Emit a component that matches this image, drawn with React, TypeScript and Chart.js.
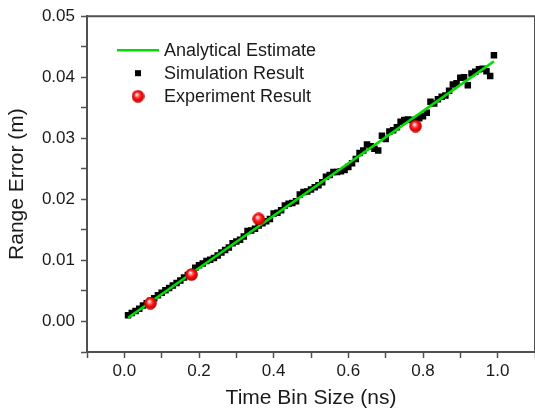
import React, { useEffect, useRef } from "react";
import { Chart, registerables } from "chart.js";

Chart.register(...registerables);

// ---------- data ----------
const simX = [
  0.01, 0.02, 0.03, 0.04, 0.05, 0.06, 0.07, 0.08, 0.09, 0.1,
  0.11, 0.12, 0.13, 0.14, 0.15, 0.16, 0.17, 0.18, 0.19, 0.2,
  0.21, 0.22, 0.23, 0.24, 0.25, 0.26, 0.27, 0.28, 0.29, 0.3,
  0.31, 0.32, 0.33, 0.34, 0.35, 0.36, 0.37, 0.38, 0.39, 0.4,
  0.41, 0.42, 0.43, 0.44, 0.45, 0.46, 0.47, 0.48, 0.49, 0.5,
  0.51, 0.52, 0.53, 0.54, 0.55, 0.56, 0.57, 0.58, 0.59, 0.6,
  0.61, 0.62, 0.63, 0.64, 0.65, 0.66, 0.67, 0.68, 0.69, 0.7,
  0.71, 0.72, 0.73, 0.74, 0.75, 0.76, 0.77, 0.78, 0.79, 0.8,
  0.81, 0.82, 0.83, 0.84, 0.85, 0.86, 0.87, 0.88, 0.89, 0.9,
  0.91, 0.92, 0.93, 0.94, 0.95, 0.96, 0.97, 0.98, 0.99,
];
const simY = [
  0.0010, 0.0014, 0.0017, 0.0021, 0.0026, 0.0030, 0.0034, 0.0038, 0.0043, 0.0047,
  0.0051, 0.0055, 0.0059, 0.0063, 0.0067, 0.0072, 0.0076, 0.0080, 0.0088, 0.0092,
  0.0095, 0.0099, 0.0101, 0.0104, 0.0108, 0.0113, 0.0117, 0.0121, 0.0128, 0.0131,
  0.0134, 0.0139, 0.0148, 0.0149, 0.0152, 0.0157, 0.0161, 0.0164, 0.0168, 0.0177,
  0.0178, 0.0182, 0.0190, 0.0193, 0.0194, 0.0197, 0.0208, 0.0212, 0.0213, 0.0216,
  0.0220, 0.0223, 0.0228, 0.0237, 0.0240, 0.0245, 0.0245, 0.0246, 0.0248, 0.0253,
  0.0259, 0.0266, 0.0276, 0.0280, 0.0290, 0.0287, 0.0283, 0.0280, 0.0304, 0.0299,
  0.0311, 0.0313, 0.0318, 0.0327, 0.0330, 0.0331, 0.0330, 0.0330, 0.0333, 0.0336,
  0.0342, 0.0360, 0.0357, 0.0364, 0.0368, 0.0370, 0.0378, 0.0388, 0.0390, 0.0399,
  0.0400, 0.0387, 0.0406, 0.0409, 0.0413, 0.0414, 0.0410, 0.0402, 0.0436,
];
const lineX = [0.01, 0.99];
const lineY = [0.0006, 0.0426];
const expX = [0.07, 0.18, 0.36, 0.78];
const expY = [0.003, 0.0077, 0.0168, 0.032];

const seriesNames = ["Analytical Estimate", "Simulation Result", "Experiment Result"];
const xTickValues = [0, 0.2, 0.4, 0.6, 0.8, 1.0];
const xTickLabels = ["0.0", "0.2", "0.4", "0.6", "0.8", "1.0"];
const yTickValues = [0, 0.01, 0.02, 0.03, 0.04, 0.05];
const yTickLabels = ["0.00", "0.01", "0.02", "0.03", "0.04", "0.05"];
const xTitle = "Time Bin Size (ns)";
const yTitle = "Range Error (m)";

// ---------- styles ----------
const FONT = "'Liberation Sans', Arial, sans-serif";
const AXIS = "#505050";
const TEXT = "#1a1a1a";
const GREEN = "#00e000";

function labelFor(v: number, vals: number[], labels: string[]) {
  const i = vals.findIndex((t) => Math.abs(t - v) < 1e-7);
  return i >= 0 ? labels[i] : "";
}

export default function App() {
  const ref = useRef<HTMLCanvasElement>(null);

  useEffect(() => {
    const canvas = ref.current!;

    const sphere = document.createElement("canvas");
    sphere.width = 13;
    sphere.height = 13;
    const sc = sphere.getContext("2d")!;
    const g = sc.createRadialGradient(5.2, 4.6, 0.3, 6.5, 6.5, 6.5);
    g.addColorStop(0, "#ffffff");
    g.addColorStop(0.2, "#ff9090");
    g.addColorStop(0.5, "#ff1414");
    g.addColorStop(1, "#b80000");
    sc.fillStyle = g;
    sc.beginPath();
    sc.arc(6.5, 6.5, 6.3, 0, Math.PI * 2);
    sc.fill();

    const framePlugin = {
      id: "frame",
      afterDraw(chart: any) {
        const { ctx, chartArea } = chart;
        const { left, right, top, bottom } = chartArea;
        ctx.save();
        ctx.strokeStyle = AXIS;
        ctx.lineWidth = 2;
        ctx.beginPath();
        ctx.moveTo(left - 1, top);
        ctx.lineTo(right, top);
        ctx.lineTo(right, bottom);
        ctx.stroke();
        ctx.restore();
      },
    };

    const legendPlugin = {
      id: "insideLegend",
      afterDraw(chart: any) {
        const { ctx, chartArea } = chart;
        const x0 = chartArea.left;
        const y0 = chartArea.top;
        const textX = x0 + 77;
        const rows = [y0 + 34, y0 + 57, y0 + 80];
        ctx.save();
        ctx.strokeStyle = GREEN;
        ctx.lineWidth = 2.5;
        ctx.beginPath();
        ctx.moveTo(x0 + 30, rows[0]);
        ctx.lineTo(x0 + 72, rows[0]);
        ctx.stroke();
        ctx.fillStyle = "#000";
        ctx.fillRect(x0 + 51 - 3, rows[1] - 3, 6, 6);
        ctx.drawImage(sphere, x0 + 51 - 6.5, rows[2] - 6.5);
        ctx.fillStyle = TEXT;
        ctx.font = `18px ${FONT}`;
        ctx.textBaseline = "middle";
        ctx.textAlign = "left";
        seriesNames.forEach((n, i) => ctx.fillText(n, textX, rows[i] + 1));
        ctx.restore();
      },
    };

    const chart = new Chart(canvas, {
      type: "scatter",
      data: {
        datasets: [
          {
            label: seriesNames[2],
            data: expX.map((x, i) => ({ x, y: expY[i] })),
            pointStyle: sphere as any,
            pointRadius: 6,
            order: 0,
          },
          {
            label: seriesNames[0],
            data: lineX.map((x, i) => ({ x, y: lineY[i] })),
            showLine: true,
            borderColor: GREEN,
            borderWidth: 2.5,
            pointRadius: 0,
            order: 1,
          },
          {
            label: seriesNames[1],
            data: simX.map((x, i) => ({ x, y: simY[i] })),
            pointStyle: "rect",
            pointRadius: 4.6,
            backgroundColor: "#000",
            borderColor: "#000",
            borderWidth: 0,
            order: 2,
          },
        ],
      },
      options: {
        animation: false,
        responsive: false,
        devicePixelRatio: 1,
        layout: { autoPadding: false, padding: { top: 16, left: 0, right: 0, bottom: 0 } },
        plugins: {
          legend: { display: false },
          tooltip: { enabled: false },
        },
        scales: {
          x: {
            type: "linear",
            min: -0.1,
            max: 1.1,
            afterFit: (s: any) => {
              s.height = 61;
            },
            border: { color: AXIS, width: 2 },
            grid: {
              drawOnChartArea: false,
              drawTicks: true,
              tickLength: 6,
              tickColor: AXIS,
              tickWidth: 1.5,
            },
            ticks: {
              stepSize: 0.1,
              autoSkip: false,
              maxRotation: 0,
              padding: 3,
              color: TEXT,
              font: { family: FONT, size: 17 },
              callback: (v: any) => labelFor(Number(v), xTickValues, xTickLabels),
            },
            title: {
              display: true,
              text: xTitle,
              color: TEXT,
              font: { family: FONT, size: 21, lineHeight: 1.2 },
              padding: { top: 0, bottom: 2 },
            },
          },
          y: {
            type: "linear",
            min: -0.005,
            max: 0.05,
            afterFit: (s: any) => {
              s.width = 87;
            },
            border: { color: AXIS, width: 2 },
            grid: {
              drawOnChartArea: false,
              drawTicks: true,
              tickLength: 6,
              tickColor: AXIS,
              tickWidth: 1.5,
            },
            ticks: {
              stepSize: 0.005,
              autoSkip: false,
              padding: 6,
              color: TEXT,
              font: { family: FONT, size: 17 },
              callback: (v: any) => labelFor(Number(v), yTickValues, yTickLabels),
            },
            title: {
              display: true,
              text: yTitle,
              color: TEXT,
              font: { family: FONT, size: 21, lineHeight: 1.2 },
              padding: { top: 5, bottom: 0 },
            },
          },
        },
      },
      plugins: [framePlugin, legendPlugin],
    });

    return () => chart.destroy();
  }, []);

  return (
    <div
      style={{
        position: "fixed",
        left: 0,
        top: 0,
        width: 535,
        height: 413,
        overflow: "hidden",
        background: "#fff",
      }}
    >
      <canvas ref={ref} width={538} height={413} style={{ display: "block", width: 538, height: 413 }} />
    </div>
  );
}
